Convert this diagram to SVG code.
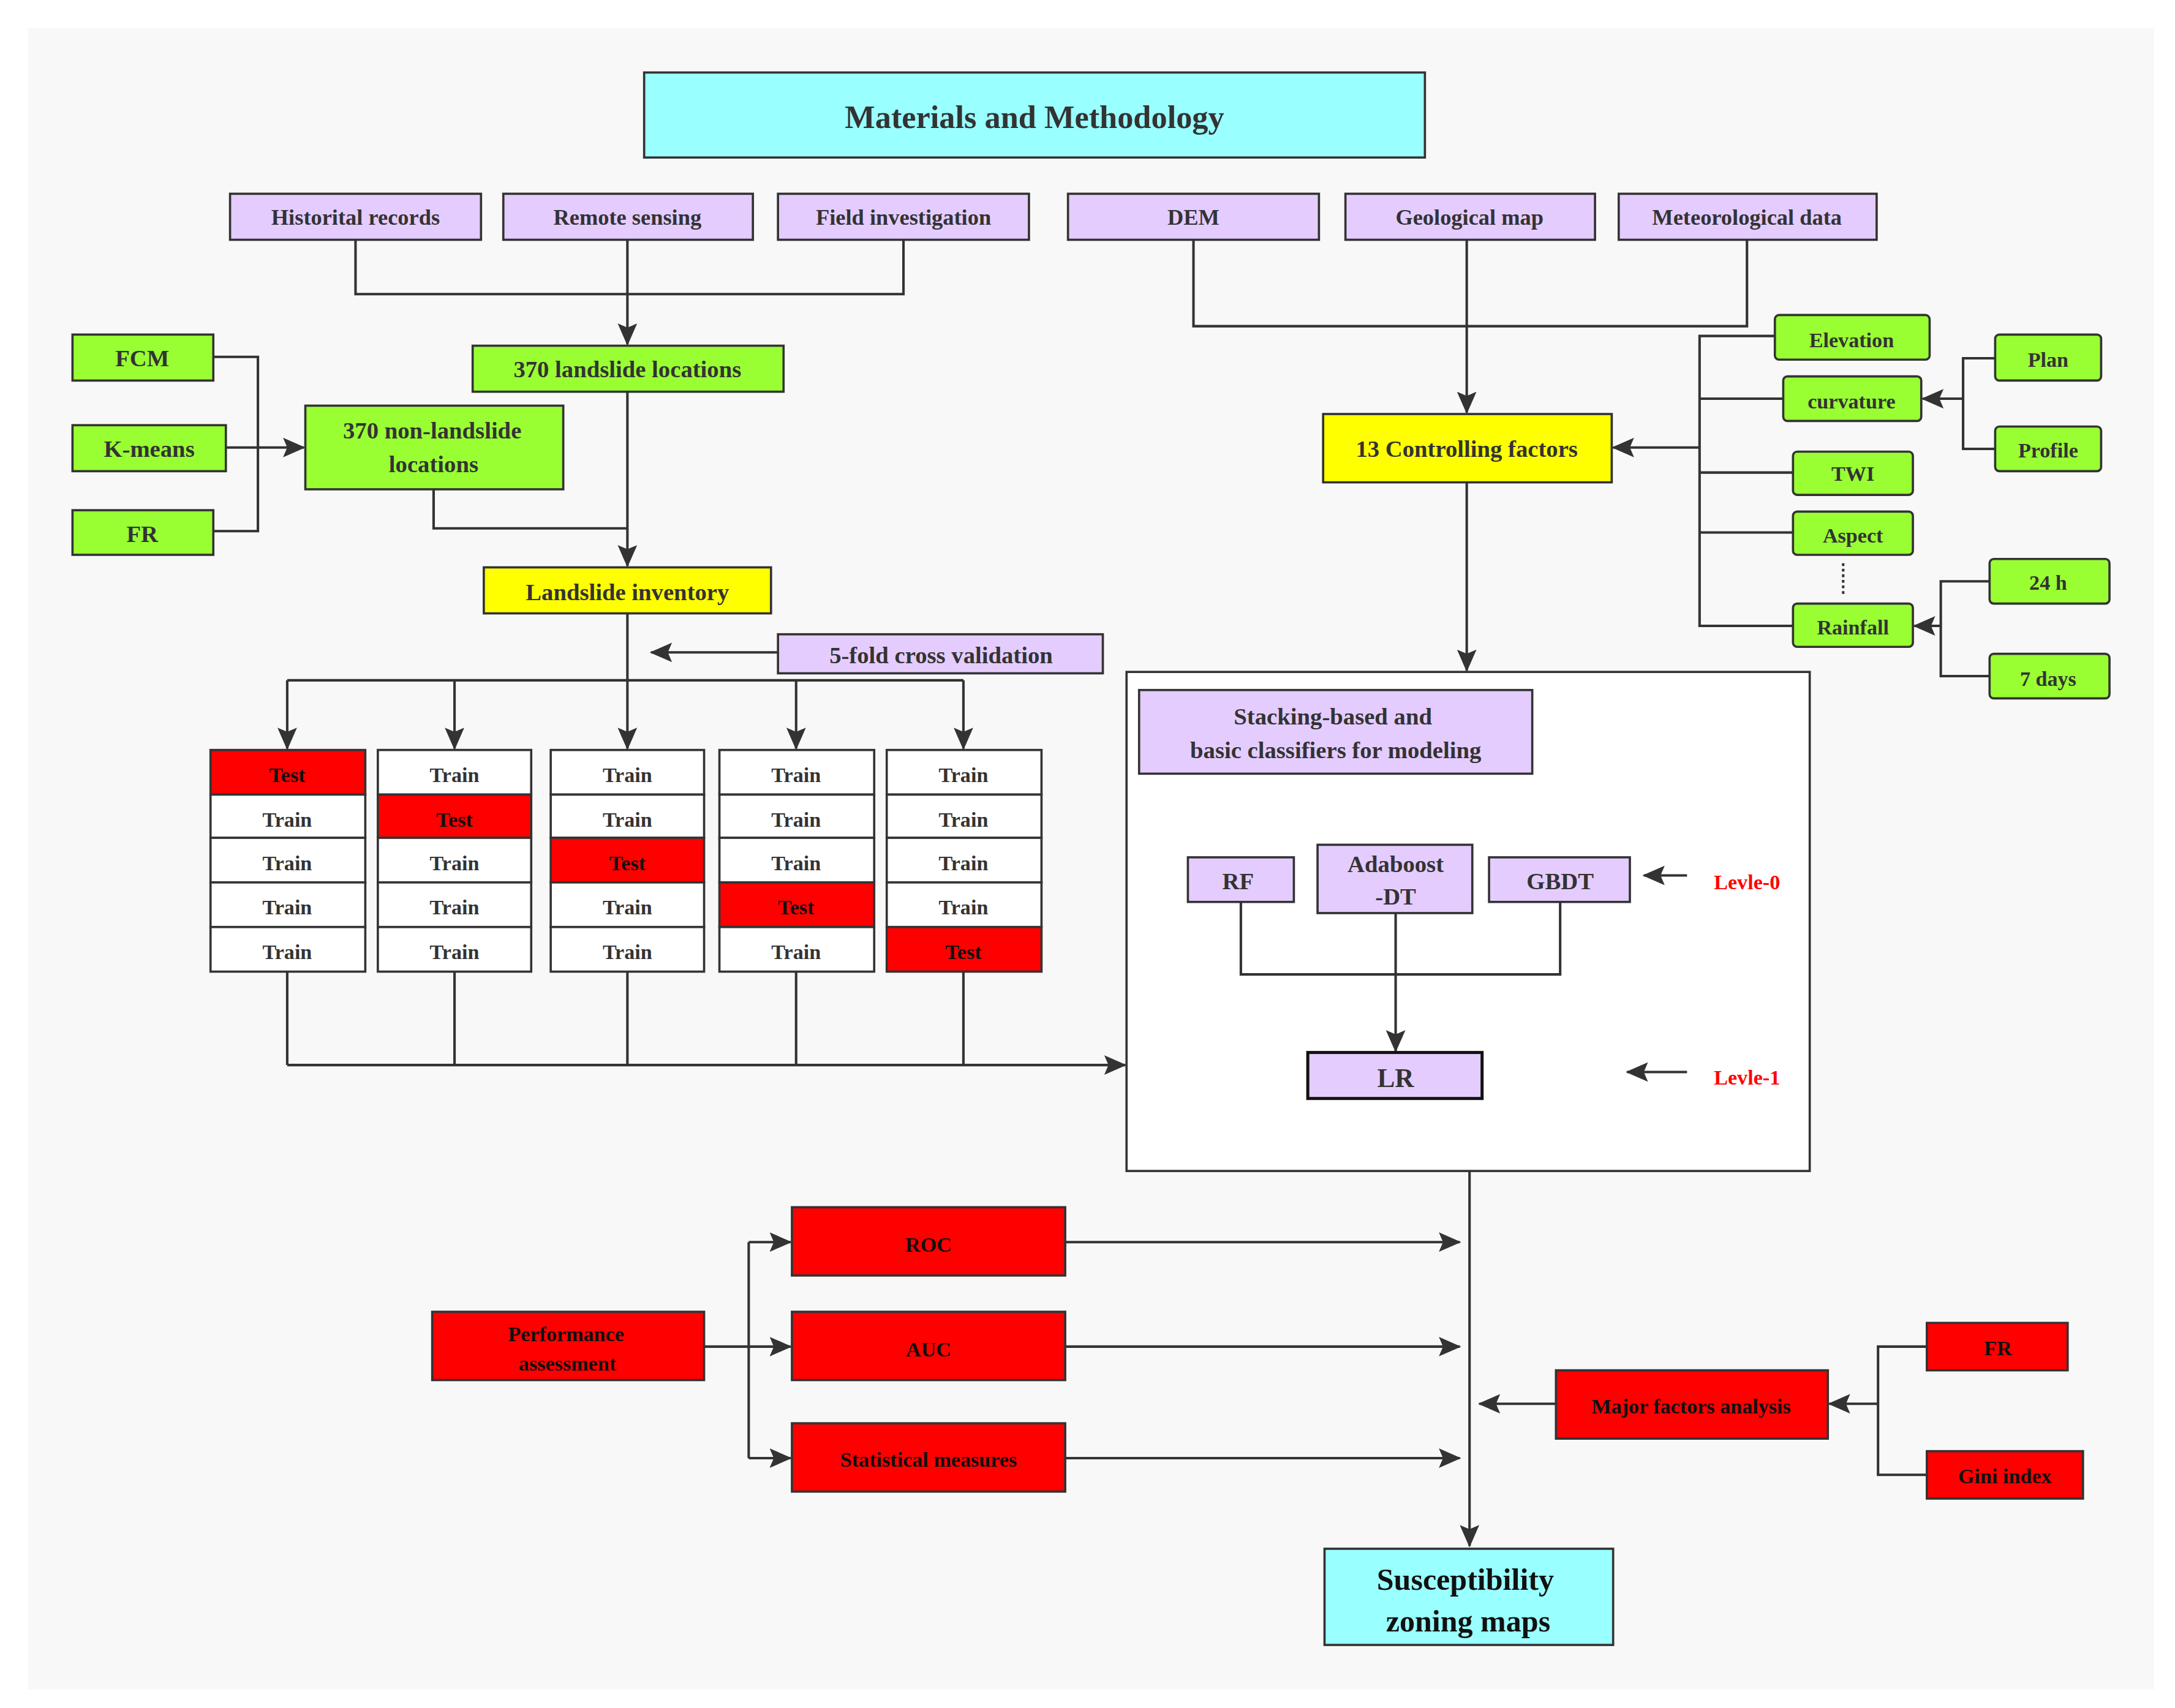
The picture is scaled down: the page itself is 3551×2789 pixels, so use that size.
<svg xmlns="http://www.w3.org/2000/svg" width="3551" height="2789" viewBox="0 0 3551 2789">
<defs>
<marker id="ar" markerUnits="userSpaceOnUse" markerWidth="16" markerHeight="14" viewBox="0 0 16 14" refX="15" refY="7" orient="auto"><path d="M0,0 L16,7 L0,14 L3,7 Z" fill="#333"/></marker>
<style>
text{font-family:"Liberation Serif","Times New Roman",serif;font-weight:bold;fill:#333;text-anchor:middle;dominant-baseline:central}
rect{stroke:#333;stroke-width:1.6}
.p{fill:#e5ccff}.g{fill:#99ff33}.y{fill:#ffff00}.c{fill:#99ffff}.r{fill:#ff0000}.w{fill:#fff}
.rt{fill:#111}
.f{font-size:16px}.m{font-size:17px}.s{font-size:15px}
#conn path{fill:none;stroke:#333;stroke-width:1.8}
.lv{fill:#ff0000;font-size:15px}
</style>
</defs>
<rect x="0" y="0" width="3551" height="2789" fill="#fff" style="stroke:none"/>
<g transform="scale(2.2763)">
<rect x="20" y="20" width="1525" height="1192" fill="#f8f8f8" style="stroke:none"/>
<g id="stackbox"><rect class="w" x="808" y="482" width="490" height="358"/></g>
<g id="conn">
<path d="M255,172V211H648V172"/>
<path d="M450,172V247" marker-end="url(#ar)"/>
<path d="M450,281V406" marker-end="url(#ar)"/>
<path d="M311,351V379H450"/>
<path d="M153,256H185V381H153"/>
<path d="M162,321H218" marker-end="url(#ar)"/>
<path d="M450,440V488"/>
<path d="M558,468H467" marker-end="url(#ar)"/>
<path d="M206,488H691"/>
<path d="M206,488V537" marker-end="url(#ar)"/>
<path d="M326,488V537" marker-end="url(#ar)"/>
<path d="M450,488V537" marker-end="url(#ar)"/>
<path d="M571,488V537" marker-end="url(#ar)"/>
<path d="M691,488V537" marker-end="url(#ar)"/>
<path d="M206,697V764M326,697V764M450,697V764M571,697V764M691,697V764"/>
<path d="M206,764H807" marker-end="url(#ar)"/>
<path d="M890,647V699H1119V647"/>
<path d="M1001,655V754" marker-end="url(#ar)"/>
<path d="M1210,628H1179" marker-end="url(#ar)"/>
<path d="M1210,769H1167" marker-end="url(#ar)"/>
<path d="M856,172V234H1253V172"/>
<path d="M1052,172V296" marker-end="url(#ar)"/>
<path d="M1052,346V481" marker-end="url(#ar)"/>
<path d="M1273,241H1219V449H1286M1219,286H1279M1219,339H1286M1219,382H1286"/>
<path d="M1219,321H1157" marker-end="url(#ar)"/>
<path d="M1322,404V428" stroke-dasharray="2,2"/>
<path d="M1431,257H1408V322H1431"/>
<path d="M1408,286H1379" marker-end="url(#ar)"/>
<path d="M1427,417H1392V485H1427"/>
<path d="M1392,449H1373" marker-end="url(#ar)"/>
<path d="M1054,840V1109" marker-end="url(#ar)"/>
<path d="M505,966H537M537,891V1046"/>
<path d="M537,891H567" marker-end="url(#ar)"/>
<path d="M537,966H567" marker-end="url(#ar)"/>
<path d="M537,1046H567" marker-end="url(#ar)"/>
<path d="M764,891H1047" marker-end="url(#ar)"/>
<path d="M764,966H1047" marker-end="url(#ar)"/>
<path d="M764,1046H1047" marker-end="url(#ar)"/>
<path d="M1116,1007H1061" marker-end="url(#ar)"/>
<path d="M1382,966H1347V1058H1382"/>
<path d="M1347,1007H1312" marker-end="url(#ar)"/>
</g>
<g id="title"><rect class="c" x="462" y="52" width="560" height="61"/><text x="742" y="84" style="font-size:23px">Materials and Methodology</text></g>
<g id="hist"><rect class="p" x="165" y="139" width="180" height="33"/><text class="f" x="255" y="156">Historital records</text></g>
<g id="rs"><rect class="p" x="361" y="139" width="179" height="33"/><text class="f" x="450" y="156">Remote sensing</text></g>
<g id="field"><rect class="p" x="558" y="139" width="180" height="33"/><text class="f" x="648" y="156">Field investigation</text></g>
<g id="dem"><rect class="p" x="766" y="139" width="180" height="33"/><text class="f" x="856" y="156">DEM</text></g>
<g id="geo"><rect class="p" x="965" y="139" width="179" height="33"/><text class="f" x="1054" y="156">Geological map</text></g>
<g id="met"><rect class="p" x="1161" y="139" width="185" height="33"/><text class="f" x="1253" y="156">Meteorological data</text></g>
<g id="ls370"><rect class="g" x="339" y="248" width="223" height="33"/><text class="m" x="450" y="265">370 landslide locations</text></g>
<g id="fcm"><rect class="g" x="52" y="240" width="101" height="33"/><text class="m" x="102" y="257">FCM</text></g>
<g id="km"><rect class="g" x="52" y="305" width="110" height="33"/><text class="m" x="107" y="322">K-means</text></g>
<g id="fr1"><rect class="g" x="52" y="366" width="101" height="32"/><text class="m" x="102" y="383">FR</text></g>
<g id="nls"><rect class="g" x="219" y="291" width="185" height="60"/><text class="m" x="310" y="309">370 non-landslide</text><text class="m" x="311" y="333">locations</text></g>
<g id="inv"><rect class="y" x="347" y="407" width="206" height="33"/><text class="m" x="450" y="425">Landslide inventory</text></g>
<g id="cv"><rect class="p" x="558" y="455" width="233" height="28"/><text class="m" x="675" y="470">5-fold cross validation</text></g>
<g id="folds">
<rect class="r" x="151" y="538" width="111" height="32"/><text class="s rt" x="206" y="556">Test</text>
<rect class="w" x="151" y="570" width="111" height="31"/><text class="s" x="206" y="588">Train</text>
<rect class="w" x="151" y="601" width="111" height="32"/><text class="s" x="206" y="619">Train</text>
<rect class="w" x="151" y="633" width="111" height="32"/><text class="s" x="206" y="651">Train</text>
<rect class="w" x="151" y="665" width="111" height="32"/><text class="s" x="206" y="683">Train</text>
<rect class="w" x="271" y="538" width="110" height="32"/><text class="s" x="326" y="556">Train</text>
<rect class="r" x="271" y="570" width="110" height="31"/><text class="s rt" x="326" y="588">Test</text>
<rect class="w" x="271" y="601" width="110" height="32"/><text class="s" x="326" y="619">Train</text>
<rect class="w" x="271" y="633" width="110" height="32"/><text class="s" x="326" y="651">Train</text>
<rect class="w" x="271" y="665" width="110" height="32"/><text class="s" x="326" y="683">Train</text>
<rect class="w" x="395" y="538" width="110" height="32"/><text class="s" x="450" y="556">Train</text>
<rect class="w" x="395" y="570" width="110" height="31"/><text class="s" x="450" y="588">Train</text>
<rect class="r" x="395" y="601" width="110" height="32"/><text class="s rt" x="450" y="619">Test</text>
<rect class="w" x="395" y="633" width="110" height="32"/><text class="s" x="450" y="651">Train</text>
<rect class="w" x="395" y="665" width="110" height="32"/><text class="s" x="450" y="683">Train</text>
<rect class="w" x="516" y="538" width="111" height="32"/><text class="s" x="571" y="556">Train</text>
<rect class="w" x="516" y="570" width="111" height="31"/><text class="s" x="571" y="588">Train</text>
<rect class="w" x="516" y="601" width="111" height="32"/><text class="s" x="571" y="619">Train</text>
<rect class="r" x="516" y="633" width="111" height="32"/><text class="s rt" x="571" y="651">Test</text>
<rect class="w" x="516" y="665" width="111" height="32"/><text class="s" x="571" y="683">Train</text>
<rect class="w" x="636" y="538" width="111" height="32"/><text class="s" x="691" y="556">Train</text>
<rect class="w" x="636" y="570" width="111" height="31"/><text class="s" x="691" y="588">Train</text>
<rect class="w" x="636" y="601" width="111" height="32"/><text class="s" x="691" y="619">Train</text>
<rect class="w" x="636" y="633" width="111" height="32"/><text class="s" x="691" y="651">Train</text>
<rect class="r" x="636" y="665" width="111" height="32"/><text class="s rt" x="691" y="683">Test</text>
</g>
<g id="stack"><rect class="p" x="817" y="495" width="282" height="60"/><text class="m" x="956" y="514">Stacking-based and</text><text class="m" x="958" y="538">basic classifiers  for modeling</text></g>
<g id="rf"><rect class="p" x="852" y="615" width="76" height="32"/><text class="m" x="888" y="632">RF</text></g>
<g id="ada"><rect class="p" x="945" y="606" width="111" height="49"/><text class="m" x="1001" y="620">Adaboost</text><text class="m" x="1001" y="643">-DT</text></g>
<g id="gbdt"><rect class="p" x="1068" y="615" width="101" height="32"/><text class="m" x="1119" y="632">GBDT</text></g>
<g id="lr"><rect class="p" x="938" y="755" width="125" height="33" style="stroke:#111;stroke-width:2.2"/><text x="1001" y="773" style="font-size:19px">LR</text></g>
<text class="lv" x="1253" y="633">Levle-0</text>
<text class="lv" x="1253" y="773">Levle-1</text>
<g id="ctrl"><rect class="y" x="949" y="297" width="207" height="49"/><text class="m" x="1052" y="322">13 Controlling factors</text></g>
<g id="elev"><rect class="g" x="1273" y="226" width="111" height="32" rx="3"/><text class="s" x="1328" y="244">Elevation</text></g>
<g id="curv"><rect class="g" x="1279" y="270" width="99" height="32" rx="3"/><text class="s" x="1328" y="288">curvature</text></g>
<g id="twi"><rect class="g" x="1286" y="324" width="86" height="31" rx="3"/><text class="s" x="1329" y="340">TWI</text></g>
<g id="asp"><rect class="g" x="1286" y="367" width="86" height="31" rx="3"/><text class="s" x="1329" y="384">Aspect</text></g>
<g id="rain"><rect class="g" x="1286" y="433" width="86" height="31" rx="3"/><text class="s" x="1329" y="450">Rainfall</text></g>
<g id="plan"><rect class="g" x="1431" y="240" width="76" height="33" rx="3"/><text class="s" x="1469" y="258">Plan</text></g>
<g id="prof"><rect class="g" x="1431" y="306" width="76" height="32" rx="3"/><text class="s" x="1469" y="323">Profile</text></g>
<g id="h24"><rect class="g" x="1427" y="401" width="86" height="32" rx="3"/><text class="s" x="1469" y="418">24 h</text></g>
<g id="d7"><rect class="g" x="1427" y="469" width="86" height="32" rx="3"/><text class="s" x="1469" y="487">7 days</text></g>
<g id="perf"><rect class="r" x="310" y="941" width="195" height="49"/><text class="s rt" x="406" y="957">Performance</text><text class="s rt" x="407" y="978">assessment</text></g>
<g id="roc"><rect class="r" x="568" y="866" width="196" height="49"/><text class="s rt" x="666" y="893">ROC</text></g>
<g id="auc"><rect class="r" x="568" y="941" width="196" height="49"/><text class="s rt" x="666" y="968">AUC</text></g>
<g id="stat"><rect class="r" x="568" y="1021" width="196" height="49"/><text class="s rt" x="666" y="1047">Statistical measures</text></g>
<g id="mfa"><rect class="r" x="1116" y="983" width="195" height="49"/><text class="s rt" x="1213" y="1009">Major factors analysis</text></g>
<g id="fr2"><rect class="r" x="1382" y="949" width="101" height="34"/><text class="s rt" x="1433" y="967">FR</text></g>
<g id="gini"><rect class="r" x="1382" y="1041" width="112" height="34"/><text class="s rt" x="1438" y="1059">Gini index</text></g>
<g id="szm"><rect class="c" x="950" y="1111" width="207" height="69"/><text x="1051" y="1133" style="font-size:22px;fill:#111">Susceptibility</text><text x="1053" y="1163" style="font-size:22px;fill:#111">zoning maps</text></g>
</g>
</svg>
